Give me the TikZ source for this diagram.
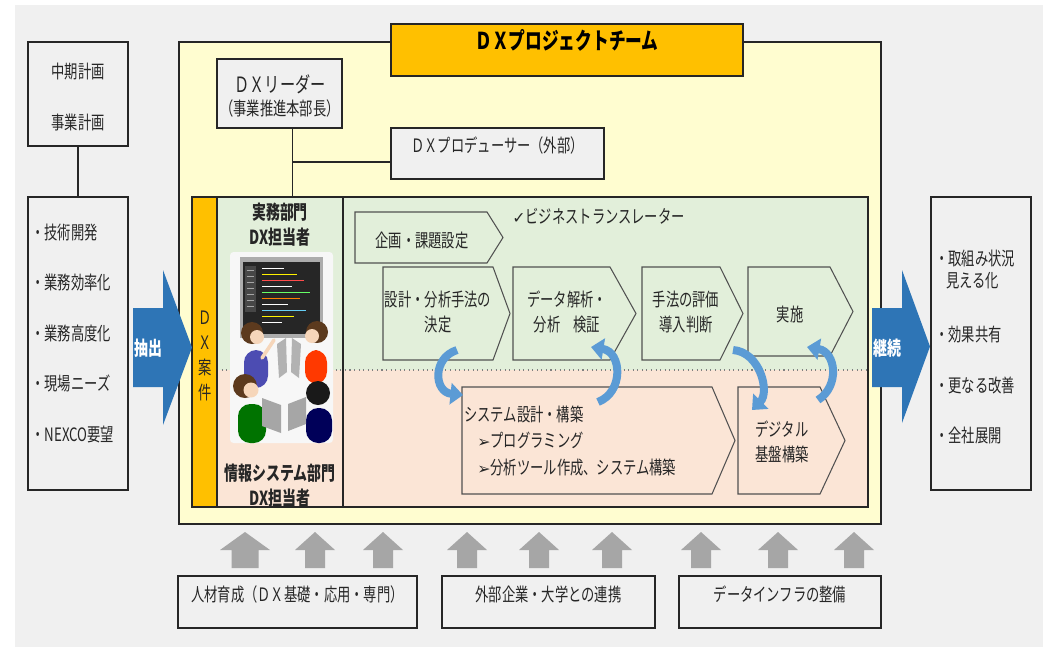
\documentclass[tikz,border=0pt]{standalone}
\usepackage{fontspec}
\setmainfont{Noto Sans CJK JP}[FakeStretch=0.72]
\newfontfamily\symfont{DejaVu Sans}
\definecolor{dxbg}{RGB}{240,240,240}
\definecolor{dxyellow}{RGB}{255,253,208}
\definecolor{dxorange}{RGB}{255,192,0}
\definecolor{dxgreen}{RGB}{226,239,218}
\definecolor{dxpink}{RGB}{251,229,214}
\definecolor{dxblue}{RGB}{46,117,182}
\definecolor{dxlight}{RGB}{91,155,213}
\definecolor{dxarrow}{RGB}{166,166,166}
\definecolor{dxline}{RGB}{38,38,38}
\definecolor{skin}{RGB}{246,214,186}
\definecolor{hair}{RGB}{92,58,30}
\usetikzlibrary{arrows.meta,positioning,calc,fit}

\begin{document}
\begin{tikzpicture}[x=0.02cm, y=-0.02cm,
  box/.style={draw=dxline, line width=0.8pt, inner sep=0},
  txt/.style={font=\fontsize{10.5}{14.2}\selectfont, text=black!85, inner sep=0, align=center},
  chev/.style={draw=dxline!80, line width=0.6pt},
  loop/.style={line width=0.16cm, dxlight, -{Triangle[width=0.42cm,length=0.25cm]}},
  wide/.style={fill=dxblue},
  up/.style={fill=dxarrow}]
  \useasboundingbox (0,0) rectangle (1043,647);
  \fill[white] (0,0) rectangle (1043,647);
  \fill[dxbg] (15,5) rectangle (1043,647);

  % Plans and themes on the left
  \node[box, fill=dxbg, fit={(28,42) (128,146)}] (plans) {};
  \node[txt] at (78,72) {中期計画};
  \node[txt] at (78,122) {事業計画};
  \node[box, fill=dxbg, fit={(28,197) (128,490)}] (themes) {};
  \draw[dxline, line width=0.6pt] (plans.south) -- (themes.north);
  \node[txt, anchor=west] at (31,233) {・技術開発};
  \node[txt, anchor=west] at (31,283) {・業務効率化};
  \node[txt, anchor=west] at (31,333) {・業務高度化};
  \node[txt, anchor=west] at (31,383) {・現場ニーズ};
  \node[txt, anchor=west] at (31,435) {・NEXCO要望};

  % Project team
  \node[box, fill=dxyellow, fit={(179,42) (881,524)}] (team) {};
  \node[box, fill=dxorange, fit={(391,24) (743,76)}, font=\fontsize{13.2}{15}\selectfont\bfseries] (title) {ＤＸプロジェクトチーム};
  \node[box, fill=dxbg, fit={(217,59) (342,128)}] (leader) {};
  \node[txt, font=\fontsize{12}{13}\selectfont] at (280,84) {ＤＸリーダー};
  \node[txt] at (280,108) {（事業推進本部長）};
  \node[box, fill=dxbg, fit={(391,128) (604,179)}, txt] (producer) {ＤＸプロデューサー（外部）};

  % Working area
  \fill[dxgreen] (217,197) rectangle (868,370);
  \fill[dxpink] (217,370) rectangle (868,507);
  \draw[gray, dotted, line width=0.6pt] (217,370) -- (868,370);
  \node[box, fit={(192,197) (868,507)}] (area) {};
  \draw[dxline, line width=0.6pt] (343,197) -- (343,507);
  \node[box, fill=dxorange, fit={(192,197) (217,507)}] (cases) {};
  \node[txt] at (205,356) {Ｄ\\Ｘ\\案\\件};

  \coordinate (lead) at ($(leader.south west)!0.6!(leader.south east)$);
  \coordinate (branch) at (lead |- 0,162);
  \draw[dxline, line width=0.6pt] (lead) -- (lead |- area.north);
  \draw[dxline, line width=0.6pt] (branch) -- (branch -| producer.west);

  \node[txt, font=\fontsize{11}{14.2}\selectfont\bfseries] at (280,225) {実務部門\\DX担当者};
  \node[txt, font=\fontsize{11}{14.2}\selectfont\bfseries] at (280,486) {情報システム部門\\DX担当者};

  % Team at work
  \fill[white!94!gray, rounded corners=2] (230,252) rectangle (333,443);
  \fill[gray!65] (240,257) rectangle (323,338);
  \fill[black!85] (243,262) rectangle (320,334);
  \fill[black!72] (245,266) rectangle (256,312);
  \foreach \yy in {270,276,...,306}
    \draw[gray!70, line width=0.4pt] (246.5,\yy) -- (254,\yy);
  \foreach \yy/\len/\col in {268/22/white, 274/35/yellow, 280/42/red!70, 286/30/white,
      292/48/green!60, 298/38/orange, 304/26/white, 310/44/cyan!60, 316/32/yellow, 322/20/white}
    \draw[\col, line width=0.45pt] (262,\yy) -- ++(\len,0);
  % people and laptops
  \fill[blue!40!gray, rounded corners=7] (244,350) rectangle (268,388);
  \fill[red!55!orange, rounded corners=7] (305,350) rectangle (327,384);
  \draw[skin, line width=2pt, line cap=round] (262,358) -- (274,340);
  \fill[hair] (252,333) circle [radius=11];
  \fill[skin] (257,337) circle [radius=7];
  \fill[hair] (317,332) circle [radius=11];
  \fill[skin] (312,336) circle [radius=7];
  \fill[gray!60] (277,344) -- (286,338) -- (287,372) -- (279,378) -- cycle;
  \fill[gray!60] (301,344) -- (292,338) -- (291,372) -- (299,378) -- cycle;
  \fill[green!45!black, rounded corners=7] (238,404) rectangle (266,443);
  \fill[blue!35!black, rounded corners=7] (306,408) rectangle (332,443);
  \fill[hair] (245,386) circle [radius=12];
  \fill[skin] (251,390) circle [radius=7.5];
  \fill[black!90] (318,393) circle [radius=12];
  \fill[gray!70] (262,398) -- (281,405) -- (281,433) -- (262,426) -- cycle;
  \fill[gray!70] (306,397) -- (288,404) -- (288,431) -- (306,424) -- cycle;

  % Process steps
  \draw[chev, fill=dxgreen] (355,212) -- (487,212) -- (503,237.5) -- (487,263) -- (355,263) -- cycle;
  \node[txt] (plan) at (422,240) {企画・課題設定};
  \node[txt, anchor=west] (translator) at (512,216) {{\symfont\fontsize{9}{10}\selectfont ✓}ビジネストランスレーター};

  \draw[chev, fill=dxgreen] (383,267) -- (493,267) -- (510,313.5) -- (493,360) -- (383,360) -- cycle;
  \node[txt] (design) at (438,312) {設計・分析手法の\\決定};
  \draw[chev, fill=dxgreen] (513,267) -- (610,267) -- (636,313.5) -- (610,360) -- (513,360) -- cycle;
  \node[txt] (analysis) at (567,312) {データ解析・\\分析　検証};
  \draw[chev, fill=dxgreen] (642,267) -- (720,267) -- (743,313.5) -- (720,360) -- (642,360) -- cycle;
  \node[txt] (review) at (686,312) {手法の評価\\導入判断};
  \draw[chev, fill=dxgreen] (748,267) -- (830,267) -- (853,311.5) -- (830,356) -- (748,356) -- cycle;
  \node[txt] (launch) at (790,314) {実施};

  \draw[chev, fill=dxpink] (462,387) -- (712,387) -- (735,440.5) -- (712,494) -- (462,494) -- cycle;
  \node[txt, anchor=west] (system) at (464,414) {システム設計・構築};
  \node[txt, anchor=west] at (477,440) {{\symfont\fontsize{9}{10}\selectfont ➢}プログラミング};
  \node[txt, anchor=west] at (477,467) {{\symfont\fontsize{9}{10}\selectfont ➢}分析ツール作成、システム構築};
  \draw[chev, fill=dxpink] (738,387) -- (820,387) -- (845,440.5) -- (820,494) -- (738,494) -- cycle;
  \node[txt] (digital) at (782,442) {デジタル\\基盤構築};

  % Loops between the two sides
  \draw[loop] (457,350) .. controls (432,358) and (434,392) .. (463,395);
  \draw[loop] (598,402) .. controls (624,392) and (622,352) .. (591,347);
  \draw[loop] (733,350) .. controls (760,352) and (770,392) .. (752,410);
  \draw[loop] (818,400) .. controls (840,386) and (836,352) .. (807,347);

  % Inflow and outflow
  \fill[wide] (133,308) -- (163,308) -- (163,270) -- (192,347.5) -- (163,425) -- (163,387) -- (133,387) -- cycle;
  \node[txt, text=white, font=\fontsize{11}{12}\selectfont\bfseries] (extract) at (148,348) {抽出};
  \fill[wide] (872,308) -- (902,308) -- (902,270) -- (930,346.5) -- (902,423) -- (902,387) -- (872,387) -- cycle;
  \node[txt, text=white, font=\fontsize{11}{12}\selectfont\bfseries] (continue) at (887,348) {継続};

  % Outcomes on the right
  \node[box, fill=dxbg, fit={(931,197) (1031,490)}] (outcomes) {};
  \node[txt, anchor=west] at (935,258) {・取組み状況};
  \node[txt, anchor=west] at (946,281) {見える化};
  \node[txt, anchor=west] at (935,335) {・効果共有};
  \node[txt, anchor=west] at (935,385) {・更なる改善};
  \node[txt, anchor=west] at (935,435) {・全社展開};

  % Support from below
  \fill[up] (220,550) -- (245,532) -- (270,550) -- (258.5,550) -- (258.5,568) -- (231.5,568) -- (231.5,550) -- cycle;
  \foreach \ax in {315,383,467,539,612,701,778,854}
    \fill[up] (\ax-20,550) -- (\ax,532) -- (\ax+20,550) -- (\ax+10,550) -- (\ax+10,568) -- (\ax-10,568) -- (\ax-10,550) -- cycle;
  \node[box, fill=dxbg, fit={(178,576) (417,628)}, txt] (training) {人材育成（ＤＸ基礎・応用・専門）};
  \node[box, fill=dxbg, fit={(442,576) (655,628)}, txt] (partners) {外部企業・大学との連携};
  \node[box, fill=dxbg, fit={(679,576) (881,628)}, txt] (infra) {データインフラの整備};
\end{tikzpicture}
\end{document}
